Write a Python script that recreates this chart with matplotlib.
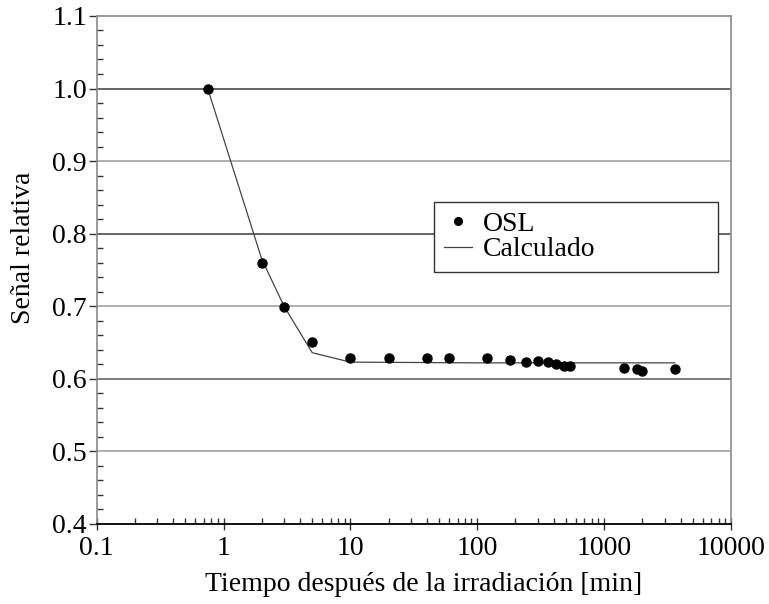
import matplotlib
matplotlib.use("Agg")
import matplotlib.pyplot as plt
from matplotlib.ticker import FixedLocator, MultipleLocator, LogLocator, NullFormatter

plt.rcParams['font.family'] = ['Liberation Serif', 'DejaVu Serif']

# medidas OSL
t_osl = [0.75, 2, 3, 5, 10, 20, 40, 60, 120, 180, 240, 300, 360, 420, 480, 540,
         1440, 1800, 2000, 3600]
s_osl = [1.000, 0.760, 0.699, 0.651, 0.629, 0.629, 0.628, 0.628, 0.628, 0.626,
         0.623, 0.624, 0.623, 0.620, 0.617, 0.617, 0.615, 0.613, 0.611, 0.614]

# curva calculada
t_calc = [0.75, 2, 3, 5, 10, 100, 1000, 3600]
s_calc = [1.000, 0.765, 0.700, 0.636, 0.623, 0.622, 0.622, 0.622]

y_grid = [0.5, 0.6, 0.7, 0.8, 0.9, 1.0]
grid_colors = ['#9a9a9a', '#5a5a5a', '#9a9a9a', '#3a3a3a', '#9a9a9a', '#3a3a3a']

fig = plt.figure(figsize=(7.69, 6.04), dpi=100)
ax = fig.add_axes([0.1257, 0.1325, 0.8249, 0.8411])

for yg, c in zip(y_grid, grid_colors):
    ax.axhline(yg, color=c, lw=1.1, zorder=1)

ax.plot(t_calc, s_calc, color='#444444', lw=0.9, label='Calculado', zorder=2)
ax.plot(t_osl, s_osl, 'o', color='black', ms=6.5, label='OSL', zorder=3)

ax.set_xscale('log')
ax.set_xlim(0.1, 10000)
ax.set_ylim(0.4, 1.1)
ax.xaxis.set_major_locator(FixedLocator([0.1, 1, 10, 100, 1000, 10000]))
ax.set_xticklabels(['0.1', '1', '10', '100', '1000', '10000'])
ax.xaxis.set_minor_locator(LogLocator(base=10, subs=range(2, 10)))
ax.xaxis.set_minor_formatter(NullFormatter())
ax.yaxis.set_major_locator(MultipleLocator(0.1))
ax.yaxis.set_minor_locator(MultipleLocator(0.02))
ax.yaxis.set_major_formatter(plt.FuncFormatter(lambda v, p: f'{v:.1f}'))

ax.tick_params(axis='both', which='major', labelsize=20, length=6, width=1,
               color='#333333')
ax.tick_params(axis='y', which='major', direction='out', pad=1)
ax.tick_params(axis='x', which='major', direction='inout', length=8, pad=5)
ax.tick_params(axis='both', which='minor', direction='in', length=4, width=1,
               color='#333333')

for side in ['top', 'right', 'left']:
    ax.spines[side].set_color('#8a8a8a')
    ax.spines[side].set_linewidth(1.2)
ax.spines['bottom'].set_color('black')
ax.spines['bottom'].set_linewidth(1.3)

ax.set_xlabel('Tiempo después de la irradiación [min]', fontsize=20, labelpad=6)
ax.xaxis.set_label_coords(0.515, -0.095)
ax.xaxis.label.set_va('top')
ax.set_ylabel('Señal relativa', fontsize=20)
ax.yaxis.set_label_coords(-0.096, 0.543)

handles, labels = ax.get_legend_handles_labels()
leg = ax.legend(handles[::-1], labels[::-1], loc='upper left',
                bbox_to_anchor=(0.532, 0.634, 0.448, 0.0), mode='expand',
                fontsize=20, frameon=True, fancybox=False, shadow=False,
                framealpha=1, edgecolor='#333333', borderpad=0.35,
                labelspacing=0.0, handlelength=1.0, handletextpad=0.4,
                borderaxespad=0, markerscale=0.85)
leg.get_frame().set_linewidth(1.0)
leg.set_zorder(5)

fig.savefig('out.png', dpi=100)
